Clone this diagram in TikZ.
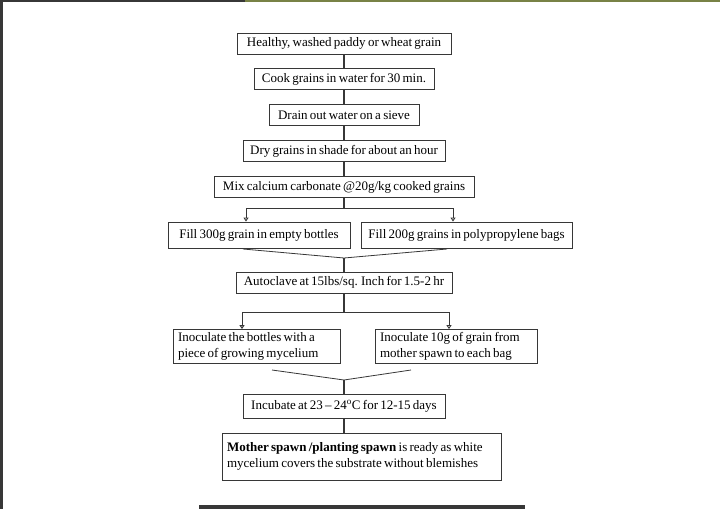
\documentclass[tikz,border=0pt]{standalone}
\usepackage{fontspec}
\setmainfont{Liberation Serif}[WordSpace=0.7]
\usepackage{xcolor}
\usetikzlibrary{arrows.meta,positioning,calc}

\definecolor{frame}{RGB}{55,55,55}
\definecolor{olive}{RGB}{120,130,70}

\begin{document}
\begin{tikzpicture}[
  x=1pt, y=-1pt,
  node distance=14pt,
  font=\fontsize{13}{16}\selectfont,
  box/.style={draw=frame, line width=0.9pt, align=center, minimum height=21pt, inner xsep=5pt, inner ysep=2pt, fill=white},
  wide/.style={box, align=flush left, minimum height=0pt, inner ysep=3pt},
  spine/.style={line width=2.2pt, draw=frame},
  thin/.style={line width=0.8pt, draw=frame},
  drop/.style={draw=frame, line width=0.9pt, -{Triangle[open, length=4pt, width=5pt]}}
]
\useasboundingbox (0,0) rectangle (720,509);
% screen edges
\fill[frame] (0,0) rectangle (3,509);
\fill[frame] (0,0) rectangle (245,2);
\fill[olive] (245,0) rectangle (720,2);
\fill[frame] (199,505) rectangle (525,509);

% main column
\node[box, minimum width=214pt] (healthy) at (344,43.5) {Healthy, washed paddy or wheat grain};
\node[box, minimum width=180pt, below=of healthy] (cook) {Cook grains in water for 30 min.};
\node[box, minimum width=150pt, below=of cook] (drain) {Drain out water on a sieve};
\node[box, minimum width=202pt, below=of drain] (dry) {Dry grains in shade for about an hour};
\node[box, minimum width=260pt, below=of dry] (mix) {Mix calcium carbonate @20g/kg cooked grains};

% filling
\node[box, minimum width=182pt, minimum height=26pt] (bottles) at (259,235) {Fill 300g grain in empty  bottles};
\node[box, minimum width=211pt, minimum height=26pt] (bags) at (466.5,235) {Fill 200g grains in polypropylene bags};
\node[box, minimum width=216pt] (autoclave) at (344,282.5) {Autoclave at 15lbs/sq. Inch for 1.5-2 hr};

% inoculation
\node[wide, text width=157pt] (inbottles) at (256.5,346.5) {Inoculate the bottles with a\\piece of growing mycelium};
\node[wide, text width=152pt] (inbags) at (456,346.5) {Inoculate 10g of grain from\\mother spawn to each bag};
\node[box, minimum width=202pt, minimum height=24pt] (incubate) at (344,406) {Incubate at 23 -- 24\textsuperscript{o}C for 12-15 days};
\node[wide, text width=269pt, minimum height=47pt] (ready) at (361.5,456.5) {\textbf{Mother spawn /planting spawn} is ready as white\\mycelium covers the substrate without blemishes};

% fork and join points
\coordinate (fork1) at (344,208);
\coordinate (fork1l) at (246,208);
\coordinate (fork1r) at (453,208);
\coordinate (join1) at (344,258);
\coordinate (join1l) at (243,249);
\coordinate (join1r) at (447,249);
\coordinate (fork2) at (344,312);
\coordinate (fork2l) at (242,312);
\coordinate (fork2r) at (449,312);
\coordinate (join2) at (344,380);
\coordinate (join2l) at (272,370);
\coordinate (join2r) at (411,370);

\draw[spine] (healthy) -- (cook);
\draw[spine] (cook) -- (drain);
\draw[spine] (drain) -- (dry);
\draw[spine] (dry) -- (mix);
\draw[spine] (mix) -- (fork1);
\draw[thin] (fork1l) -- (fork1r);
\draw[drop] (fork1l) -- (fork1l |- bottles.north);
\draw[drop] (fork1r) -- (fork1r |- bags.north);
\draw[thin] (join1l) -- (join1) -- (join1r);
\draw[spine] (join1) -- (autoclave);
\draw[spine] (autoclave) -- (fork2);
\draw[thin] (fork2l) -- (fork2r);
\draw[drop] (fork2l) -- (fork2l |- inbottles.north);
\draw[drop] (fork2r) -- (fork2r |- inbags.north);
\draw[thin] (join2l) -- (join2) -- (join2r);
\draw[spine] (join2) -- (incubate);
\draw[spine] (incubate.south) -- (incubate.south |- ready.north);
\end{tikzpicture}
\end{document}
